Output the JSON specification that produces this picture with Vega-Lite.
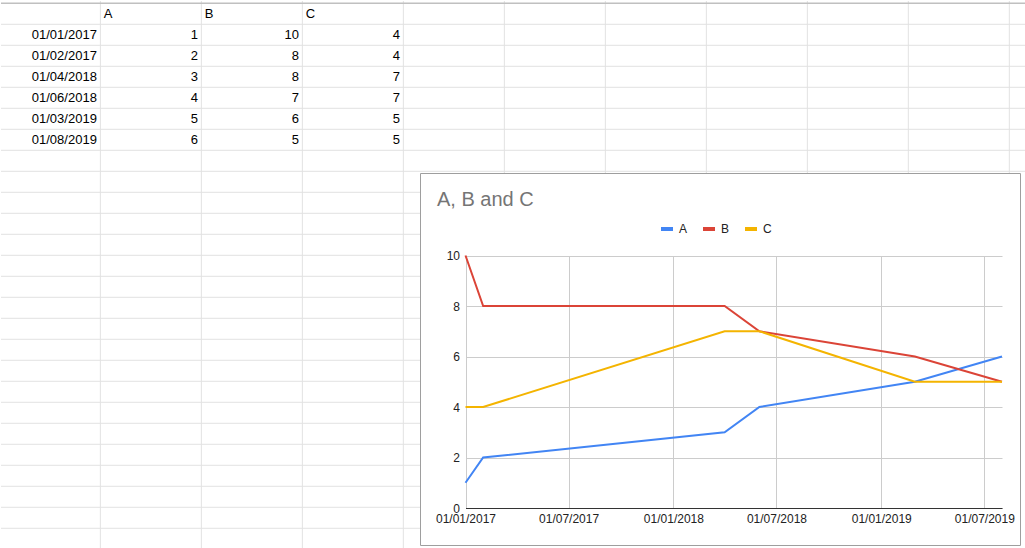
{
  "$schema": "https://vega.github.io/schema/vega-lite/v6.json",
  "padding": 0,
  "spacing": 0,
  "bounds": "flush",
  "background": "white",
  "config": {"view": {"stroke": null}, "font": "Liberation Sans"},
  "datasets": {
    "cells": [
      {"r": 0, "c": 1, "text": "A"}, {"r": 0, "c": 2, "text": "B"}, {"r": 0, "c": 3, "text": "C"},
      {"r": 1, "c": 0, "text": "01/01/2017"}, {"r": 1, "c": 1, "text": "1"}, {"r": 1, "c": 2, "text": "10"}, {"r": 1, "c": 3, "text": "4"},
      {"r": 2, "c": 0, "text": "01/02/2017"}, {"r": 2, "c": 1, "text": "2"}, {"r": 2, "c": 2, "text": "8"}, {"r": 2, "c": 3, "text": "4"},
      {"r": 3, "c": 0, "text": "01/04/2018"}, {"r": 3, "c": 1, "text": "3"}, {"r": 3, "c": 2, "text": "8"}, {"r": 3, "c": 3, "text": "7"},
      {"r": 4, "c": 0, "text": "01/06/2018"}, {"r": 4, "c": 1, "text": "4"}, {"r": 4, "c": 2, "text": "7"}, {"r": 4, "c": 3, "text": "7"},
      {"r": 5, "c": 0, "text": "01/03/2019"}, {"r": 5, "c": 1, "text": "5"}, {"r": 5, "c": 2, "text": "6"}, {"r": 5, "c": 3, "text": "5"},
      {"r": 6, "c": 0, "text": "01/08/2019"}, {"r": 6, "c": 1, "text": "6"}, {"r": 6, "c": 2, "text": "5"}, {"r": 6, "c": 3, "text": "5"}
    ],
    "series": [
      {"date": "2017-01-01", "series": "A", "value": 1},
      {"date": "2017-02-01", "series": "A", "value": 2},
      {"date": "2018-04-01", "series": "A", "value": 3},
      {"date": "2018-06-01", "series": "A", "value": 4},
      {"date": "2019-03-01", "series": "A", "value": 5},
      {"date": "2019-08-01", "series": "A", "value": 6},
      {"date": "2017-01-01", "series": "B", "value": 10},
      {"date": "2017-02-01", "series": "B", "value": 8},
      {"date": "2018-04-01", "series": "B", "value": 8},
      {"date": "2018-06-01", "series": "B", "value": 7},
      {"date": "2019-03-01", "series": "B", "value": 6},
      {"date": "2019-08-01", "series": "B", "value": 5},
      {"date": "2017-01-01", "series": "C", "value": 4},
      {"date": "2017-02-01", "series": "C", "value": 4},
      {"date": "2018-04-01", "series": "C", "value": 7},
      {"date": "2018-06-01", "series": "C", "value": 7},
      {"date": "2019-03-01", "series": "C", "value": 5},
      {"date": "2019-08-01", "series": "C", "value": 5}
    ]
  },
  "vconcat": [
    {
      "width": 1025,
      "height": 172,
      "layer": [
        {
          "data": {"values": [{"c": 0}, {"c": 1}, {"c": 2}, {"c": 3}, {"c": 4}, {"c": 5}, {"c": 6}, {"c": 7}, {"c": 8}, {"c": 9}]},
          "mark": {"type": "rule", "color": "#e2e2e2", "strokeWidth": 1},
          "encoding": {"x": {"field": "c", "type": "quantitative", "scale": {"domain": [-0.984, 9.165], "zero": false, "nice": false}, "axis": null}}
        },
        {
          "data": {"values": [{"r": 0}, {"r": 1}, {"r": 2}, {"r": 3}, {"r": 4}, {"r": 5}, {"r": 6}, {"r": 7}]},
          "mark": {"type": "rule", "color": "#e2e2e2", "strokeWidth": 1},
          "encoding": {"y": {"field": "r", "type": "quantitative", "scale": {"domain": [-1.1095, 7.081], "reverse": true, "zero": false, "nice": false}, "axis": null}}
        },
        {
          "data": {"values": [{"r": -1}]},
          "mark": {"type": "rule", "color": "#c0c0c0", "strokeWidth": 1.5},
          "encoding": {"y": {"field": "r", "type": "quantitative", "scale": {"domain": [-1.1095, 7.081], "reverse": true, "zero": false, "nice": false}, "axis": null}}
        },
        {
          "data": {"name": "cells"},
          "transform": [{"filter": "datum.r == 0"}],
          "mark": {"type": "text", "align": "left", "baseline": "middle", "dx": -97.5, "dy": -10.5, "fontSize": 13, "color": "#000000"},
          "encoding": {
            "x": {"field": "c", "type": "quantitative", "scale": {"domain": [-0.984, 9.165], "zero": false, "nice": false}, "axis": null},
            "y": {"field": "r", "type": "quantitative", "scale": {"domain": [-1.1095, 7.081], "reverse": true, "zero": false, "nice": false}, "axis": null},
            "text": {"field": "text"}
          }
        },
        {
          "data": {"name": "cells"},
          "transform": [{"filter": "datum.r > 0"}],
          "mark": {"type": "text", "align": "right", "baseline": "middle", "dx": -3.5, "dy": -10.5, "fontSize": 13, "color": "#000000"},
          "encoding": {
            "x": {"field": "c", "type": "quantitative", "scale": {"domain": [-0.984, 9.165], "zero": false, "nice": false}, "axis": null},
            "y": {"field": "r", "type": "quantitative", "scale": {"domain": [-1.1095, 7.081], "reverse": true, "zero": false, "nice": false}, "axis": null},
            "text": {"field": "text"}
          }
        }
      ]
    },
    {
      "spacing": 0,
      "bounds": "flush",
      "hconcat": [
        {
          "width": 419,
          "height": 376,
          "layer": [
            {
              "data": {"values": [{"c": 0}, {"c": 1}, {"c": 2}, {"c": 3}]},
              "mark": {"type": "rule", "color": "#e2e2e2", "strokeWidth": 1},
              "encoding": {"x": {"field": "c", "type": "quantitative", "scale": {"domain": [-0.984, 3.165], "zero": false, "nice": false}, "axis": null}}
            },
            {
              "data": {"values": [{"r": 8}, {"r": 9}, {"r": 10}, {"r": 11}, {"r": 12}, {"r": 13}, {"r": 14}, {"r": 15}, {"r": 16}, {"r": 17}, {"r": 18}, {"r": 19}, {"r": 20}, {"r": 21}, {"r": 22}, {"r": 23}, {"r": 24}]},
              "mark": {"type": "rule", "color": "#e2e2e2", "strokeWidth": 1},
              "encoding": {"y": {"field": "r", "type": "quantitative", "scale": {"domain": [7.081, 24.986], "reverse": true, "zero": false, "nice": false}, "axis": null}}
            }
          ]
        },
        {
          "width": 600,
          "height": 372,
          "view": {"stroke": "#9e9e9e", "strokeWidth": 1, "fill": "white"},
          "title": {"text": "A, B and C", "anchor": "start", "frame": "group", "fontSize": 20, "fontWeight": "normal", "color": "#757575", "font": "Liberation Sans", "dx": 17, "offset": -53, "baseline": "alphabetic"},
          "data": {"name": "series"},
          "mark": {"type": "line", "strokeWidth": 2},
          "encoding": {
            "x": {
              "field": "date", "type": "temporal",
              "scale": {"type": "utc", "domain": [{"year": 2017, "month": 1, "date": 1, "utc": true}, {"year": 2019, "month": 8, "date": 1, "utc": true}], "range": [45.5, 582], "nice": false},
              "axis": {
                "orient": "top", "offset": -335,
                "values": [
                  {"year": 2017, "month": 1, "date": 1, "utc": true},
                  {"year": 2017, "month": 7, "date": 1, "utc": true},
                  {"year": 2018, "month": 1, "date": 1, "utc": true},
                  {"year": 2018, "month": 7, "date": 1, "utc": true},
                  {"year": 2019, "month": 1, "date": 1, "utc": true},
                  {"year": 2019, "month": 7, "date": 1, "utc": true}
                ],
                "format": "%d/%m/%Y", "grid": true, "gridColor": "#cccccc", "gridWidth": 1,
                "ticks": false, "domain": true, "domainColor": "#333333", "domainWidth": 1,
                "labelBaseline": "top", "labelPadding": -5,
                "labelFontSize": 12, "labelColor": "#222222", "labelFlush": false, "labelOverlap": false, "title": null
              }
            },
            "y": {
              "field": "value", "type": "quantitative",
              "scale": {"domain": [0, 10], "range": [335, 82.5], "nice": false},
              "axis": {
                "orient": "left", "offset": -45.5, "values": [0, 2, 4, 6, 8, 10],
                "grid": true, "gridColor": "#cccccc", "gridWidth": 1, "ticks": false, "domain": false,
                "labelFontSize": 12, "labelColor": "#222222", "labelPadding": 6, "title": null
              }
            },
            "color": {
              "field": "series", "type": "nominal",
              "scale": {"domain": ["A", "B", "C"], "range": ["#4285f4", "#db4437", "#f4b400"]},
              "legend": {
                "orient": "none", "legendX": 658, "legendY": 220, "direction": "horizontal", "title": null,
                "symbolType": "stroke", "symbolStrokeWidth": 4, "symbolSize": 144,
                "labelFontSize": 12, "labelColor": "#222222", "labelOffset": 4, "columnPadding": 7, "labelFont": "Liberation Sans"
              }
            }
          }
        }
      ]
    }
  ]
}
